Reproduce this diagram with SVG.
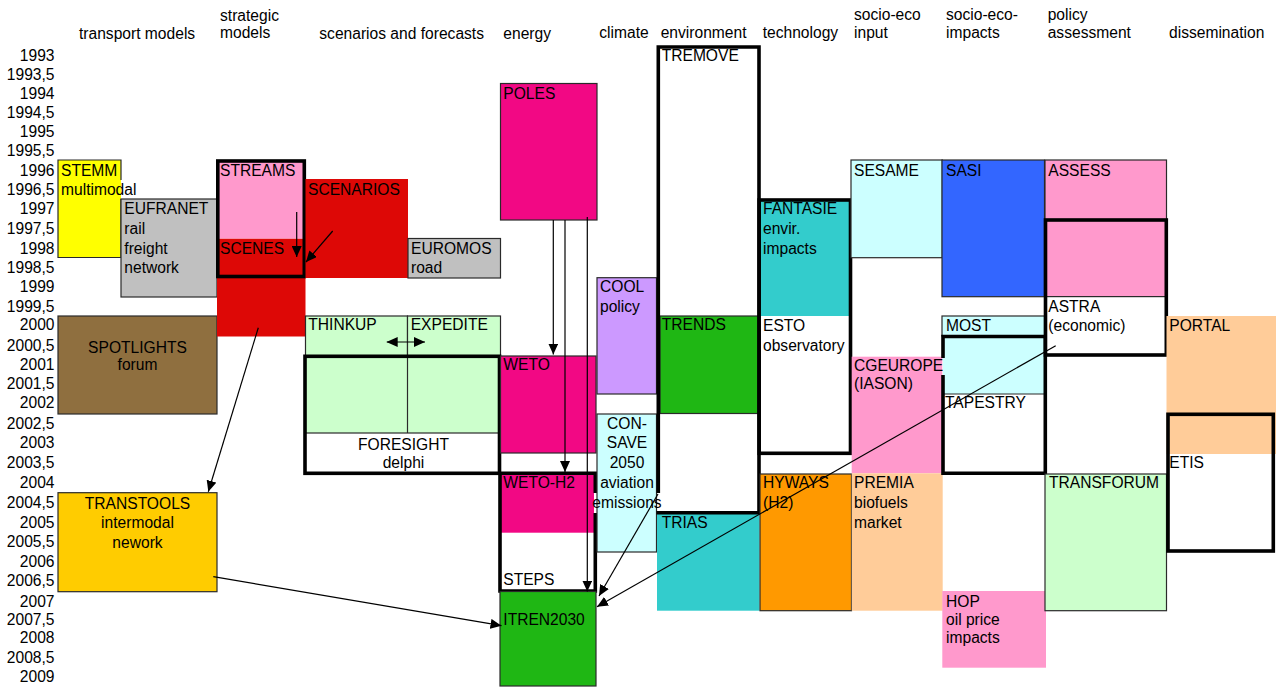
<svg xmlns="http://www.w3.org/2000/svg" width="1280" height="688" viewBox="0 0 1280 688">
<style>
.t{font-family:"Liberation Sans",Arial,sans-serif;font-size:15.6px;fill:#000}
.c{text-anchor:middle}
.yr{text-anchor:end}
.thin{stroke:#2a2a2a;stroke-width:1.2}
.thick{fill:none;stroke:#000;stroke-width:3.6}
.ln{fill:none;stroke:#000;stroke-width:1.2}
.yel{fill:#FFFF00}.gry{fill:#C0C0C0}.brn{fill:#8F6F3F}.gld{fill:#FFCC00}
.pnk{fill:#FF99CC}.red{fill:#DD0806}.lgr{fill:#CCFFCC}.mag{fill:#F20884}
.pur{fill:#CC99FF}.cyn{fill:#CCFFFF}.grn{fill:#1FB714}.tea{fill:#33CCCC}
.org{fill:#FF9900}.pch{fill:#FFCC99}.blu{fill:#3366FF}.wht{fill:#FFFFFF}
</style>
<defs>
<marker id="ah" markerWidth="11" markerHeight="10" refX="11" refY="5" orient="auto-start-reverse" markerUnits="userSpaceOnUse">
<path d="M0,0 L11,5 L0,10 z" fill="#000"/>
</marker>
</defs>
<rect width="1280" height="688" fill="#FFFFFF"/>

<g id="headers" class="t">
<text x="79" y="39.3">transport models</text>
<text x="220" y="20.5">strategic</text>
<text x="220" y="37.7">models</text>
<text x="319.3" y="39.3">scenarios and forecasts</text>
<text x="503.3" y="38.5">energy</text>
<text x="599.3" y="38.3">climate</text>
<text x="660.7" y="38.3">environment</text>
<text x="762.7" y="38.3">technology</text>
<text x="854" y="20.3">socio-eco</text>
<text x="854" y="37.7">input</text>
<text x="946" y="20.3">socio-eco-</text>
<text x="946" y="37.7">impacts</text>
<text x="1047.7" y="20.3">policy</text>
<text x="1047.7" y="37.7">assessment</text>
<text x="1169" y="37.7">dissemination</text>
</g>

<g id="years" class="t yr">
<text x="54.5" y="61">1993</text>
<text x="54.5" y="80">1993,5</text>
<text x="54.5" y="99">1994</text>
<text x="54.5" y="117.5">1994,5</text>
<text x="54.5" y="136.5">1995</text>
<text x="54.5" y="155.5">1995,5</text>
<text x="54.5" y="175.5">1996</text>
<text x="54.5" y="194.5">1996,5</text>
<text x="54.5" y="214">1997</text>
<text x="54.5" y="233.5">1997,5</text>
<text x="54.5" y="253.5">1998</text>
<text x="54.5" y="272.7">1998,5</text>
<text x="54.5" y="292.3">1999</text>
<text x="54.5" y="311.7">1999,5</text>
<text x="54.5" y="330.2">2000</text>
<text x="54.5" y="350.5">2000,5</text>
<text x="54.5" y="370">2001</text>
<text x="54.5" y="389.3">2001,5</text>
<text x="54.5" y="408.3">2002</text>
<text x="54.5" y="428.5">2002,5</text>
<text x="54.5" y="448.3">2003</text>
<text x="54.5" y="468.3">2003,5</text>
<text x="54.5" y="488.3">2004</text>
<text x="54.5" y="508.3">2004,5</text>
<text x="54.5" y="528">2005</text>
<text x="54.5" y="547.3">2005,5</text>
<text x="54.5" y="566.7">2006</text>
<text x="54.5" y="586">2006,5</text>
<text x="54.5" y="606.7">2007</text>
<text x="54.5" y="625.3">2007,5</text>
<text x="54.5" y="643.3">2008</text>
<text x="54.5" y="662.7">2008,5</text>
<text x="54.5" y="681.7">2009</text>
</g>

<!-- transport models -->
<g id="stemm">
<rect class="yel" x="58" y="160" width="63" height="97.5"/>
<path class="thin" fill="none" d="M121,180 V160 H58 V257.5 H121 V199"/>
<text class="t" x="61" y="175.5">STEMM</text>
<text class="t" x="61" y="194.5">multimodal</text>
</g>
<g id="eufranet">
<rect class="gry thin" x="121" y="199" width="96" height="98"/>
<text class="t" x="124.3" y="214">EUFRANET</text>
<text class="t" x="124.3" y="233.5">rail</text>
<text class="t" x="124.3" y="253.5">freight</text>
<text class="t" x="124.3" y="272.7">network</text>
</g>
<g id="spotlights">
<rect class="brn thin" x="58" y="316" width="159" height="98"/>
<text class="t c" x="137.5" y="353.3">SPOTLIGHTS</text>
<text class="t c" x="137.5" y="370">forum</text>
</g>
<g id="transtools">
<rect class="gld thin" x="58" y="492.7" width="159" height="99"/>
<text class="t c" x="137.5" y="509.3">TRANSTOOLS</text>
<text class="t c" x="137.5" y="528">intermodal</text>
<text class="t c" x="137.5" y="548">nework</text>
</g>

<!-- strategic models -->
<g id="scenes">
<rect class="red" x="217" y="238.5" width="88.5" height="98"/>
<text class="t" x="220" y="253.5">SCENES</text>
</g>
<g id="streams">
<rect class="pnk" x="217" y="160" width="88.5" height="78.5"/>
<text class="t" x="220" y="175.5">STREAMS</text>
<rect class="thick" x="217.8" y="161" width="86.5" height="115.5"/>
</g>

<!-- scenarios and forecasts -->
<g id="scenarios">
<rect class="red" x="305.5" y="179" width="102.5" height="99"/>
<text class="t" x="308" y="194.5">SCENARIOS</text>
</g>
<g id="euromos">
<rect class="gry thin" x="408" y="238.5" width="92.5" height="39.5"/>
<text class="t" x="411" y="253.5">EUROMOS</text>
<text class="t" x="411" y="272.7">road</text>
</g>
<g id="thinkup">
<rect class="lgr thin" x="305.5" y="316" width="102" height="40"/>
<text class="t" x="308.3" y="330.2">THINKUP</text>
</g>
<g id="expedite">
<rect class="lgr thin" x="407.5" y="316" width="93" height="40"/>
<text class="t" x="410.7" y="330.2">EXPEDITE</text>
</g>
<g id="foresight">
<rect class="lgr thin" x="305.5" y="356" width="193.5" height="77"/>
<line class="thin" x1="407.5" y1="356" x2="407.5" y2="433"/>
<text class="t c" x="403.5" y="450">FORESIGHT</text>
<text class="t c" x="403.5" y="468.3">delphi</text>
<rect class="thick" x="305" y="356.3" width="194.5" height="117"/>
</g>

<!-- energy -->
<g id="poles">
<rect class="mag thin" x="500.5" y="83.5" width="96.5" height="136.5"/>
<text class="t" x="503.3" y="99">POLES</text>
</g>
<g id="weto">
<rect class="mag thin" x="500.5" y="356" width="95.5" height="97"/>
<text class="t" x="503.3" y="370">WETO</text>
</g>
<g id="steps">
<rect class="mag" x="500" y="473.3" width="94" height="59.4"/>
<text class="t" x="503.3" y="488.3">WETO-H2</text>
<text class="t" x="503.3" y="585">STEPS</text>
<path class="thick" d="M499.5,473.3 H597 M500,473.3 V591 H595.3 V513 M595.3,493 V473.3"/>
</g>
<g id="itren2030">
<rect class="grn thin" x="500" y="591.5" width="96" height="94.5"/>
<text class="t" x="503.3" y="625.3">ITREN2030</text>
</g>

<!-- climate -->
<g id="cool">
<rect class="pur thin" x="597" y="277.7" width="59.5" height="116.3"/>
<text class="t" x="600" y="292.3">COOL</text>
<text class="t" x="600" y="311.7">policy</text>
</g>
<g id="consave">
<rect class="cyn thin" x="597" y="414" width="59.5" height="138"/>
<text class="t c" x="627" y="428.5">CON-</text>
<text class="t c" x="627" y="448.3">SAVE</text>
<text class="t c" x="627" y="468.3">2050</text>
<text class="t c" x="627" y="488.3">aviation</text>
<text class="t c" x="627" y="508">emissions</text>
</g>

<!-- environment -->
<g id="trends">
<rect class="grn thin" x="660" y="316" width="98.5" height="97.5"/>
<text class="t" x="661.7" y="330.2">TRENDS</text>
</g>
<g id="trias">
<rect class="tea" x="657" y="513" width="102.5" height="97.7"/>
<text class="t" x="661.7" y="528">TRIAS</text>
</g>
<g id="tremove">
<text class="t" x="661.7" y="61">TREMOVE</text>
<path class="thick" d="M658.3,493 V47 H759 V513 M656.5,512.7 H760.7"/>
</g>

<!-- technology -->
<g id="fantasie">
<rect class="tea" x="760" y="200" width="90.5" height="116"/>
<text class="t" x="763" y="214">FANTASIE</text>
<text class="t" x="763" y="233.5">envir.</text>
<text class="t" x="763" y="253.5">impacts</text>
<text class="t" x="763" y="330.5">ESTO</text>
<text class="t" x="763" y="350.5">observatory</text>
<rect class="thick" x="759.2" y="200" width="91.3" height="253.3"/>
</g>
<g id="hyways">
<rect class="org thin" x="760" y="474" width="91.5" height="136.7"/>
<text class="t" x="763" y="488.3">HYWAYS</text>
<text class="t" x="763" y="508.3">(H2)</text>
</g>

<!-- socio-eco input -->
<g id="sesame">
<rect class="cyn thin" x="851" y="160" width="91.3" height="97.7"/>
<text class="t" x="854" y="175.5">SESAME</text>
</g>
<g id="cgeurope">
<rect class="pnk" x="851.7" y="356.7" width="90.6" height="116.6"/>
<text class="t" x="854" y="370.5">CGEUROPE</text>
<text class="t" x="854" y="389.3">(IASON)</text>
</g>
<g id="premia">
<rect class="pch" x="851.7" y="473.3" width="91" height="137.4"/>
<text class="t" x="854" y="488.3">PREMIA</text>
<text class="t" x="854" y="508.3">biofuels</text>
<text class="t" x="854" y="528">market</text>
</g>

<!-- socio-eco impacts -->
<g id="sasi">
<rect class="blu thin" x="942" y="160" width="102.5" height="136.7"/>
<text class="t" x="946" y="175.5">SASI</text>
</g>
<g id="most">
<rect class="cyn thin" x="942" y="316" width="102.5" height="20"/>
<text class="t" x="946" y="330.5">MOST</text>
</g>
<g id="tapestry">
<rect class="cyn" x="943" y="336.5" width="102" height="57.5"/>
<line class="thin" x1="943" y1="394" x2="1045" y2="394"/>
<text class="t" x="945" y="408.3">TAPESTRY</text>
<path class="thick" d="M943,358 V336.5 H1045.3 V473.3 H943 V375"/>
</g>
<g id="hop">
<rect class="pnk" x="942.3" y="591" width="103.7" height="76.7"/>
<text class="t" x="946" y="606.7">HOP</text>
<text class="t" x="946" y="625.3">oil price</text>
<text class="t" x="946" y="643.3">impacts</text>
</g>

<!-- policy assessment -->
<g id="assess">
<rect class="pnk thin" x="1045" y="160" width="121.5" height="137"/>
<text class="t" x="1048.3" y="175.5">ASSESS</text>
</g>
<g id="astra">
<rect class="pnk" x="1045.5" y="220" width="120.8" height="76.7"/>
<line class="thin" x1="1045.5" y1="296.7" x2="1166.3" y2="296.7"/>
<rect class="wht" x="1045.5" y="297.3" width="120.8" height="57.7"/>
<text class="t" x="1048.3" y="311.7">ASTRA</text>
<text class="t" x="1048.3" y="330.5">(economic)</text>
<rect class="thick" x="1045.5" y="220" width="120.8" height="135"/>
</g>
<g id="transforum">
<rect class="lgr thin" x="1045" y="474" width="121.5" height="136.7"/>
<text class="t" x="1049" y="488.3">TRANSFORUM</text>
</g>

<!-- dissemination -->
<g id="portal">
<rect class="pch" x="1166.5" y="316" width="109.5" height="138"/>
<text class="t" x="1169.3" y="330.5">PORTAL</text>
</g>
<g id="etis">
<text class="t" x="1169.3" y="468.3">ETIS</text>
<rect class="thick" x="1168" y="414.3" width="105.3" height="136.7"/>
</g>

<g id="connectors">
<path class="ln" d="M296.7,212 V257" marker-end="url(#ah)"/>
<path class="ln" d="M332.7,231 L306,262" marker-end="url(#ah)"/>
<path class="ln" d="M258.3,327.7 L208.3,491.7" marker-end="url(#ah)"/>
<path class="ln" d="M213.3,576.7 L501.5,625.7" marker-end="url(#ah)"/>
<path class="ln" d="M386.7,342 H425" marker-start="url(#ah)" marker-end="url(#ah)"/>
<path class="ln" d="M553.3,220 V354.5" marker-end="url(#ah)"/>
<path class="ln" d="M565,220 V472" marker-end="url(#ah)"/>
<path class="ln" d="M587.3,217 V591.5" marker-end="url(#ah)"/>
<path class="ln" d="M1055.7,345.7 L597,606.7" marker-end="url(#ah)"/>
<path class="ln" d="M658,494 L599,596" marker-end="url(#ah)"/>
</g>
</svg>
